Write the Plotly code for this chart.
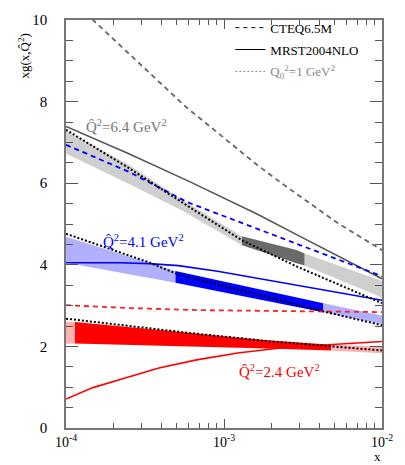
import plotly.graph_objects as go

# ---------------- data ----------------
# Q^2 = 6.4 GeV^2 curves (grey)
x_cteq_64 = [1.0e-4, 1.48e-4, 5.7e-4, 1.63e-3, 2.39e-3, 5.35e-3, 1.0e-2]
y_cteq_64 = [10.62, 10.0, 7.88, 6.44, 5.96, 5.00, 4.36]
x_mrst_64 = [1.0e-4, 2.5e-4, 6.2e-4, 1.63e-3, 2.88e-3, 1.0e-2]
y_mrst_64 = [7.39, 6.72, 6.02, 5.24, 4.74, 3.66]
x_q0_64 = [1.0e-4, 2.5e-4, 5.9e-4, 1.3e-3, 2.88e-3, 1.0e-2]
y_q0_64 = [7.31, 6.37, 5.44, 4.60, 3.96, 3.06]
x_band_64 = [1.0e-4, 2.5e-4, 5.5e-4, 1.3e-3, 2.88e-3, 3.24e-3, 1.0e-2]
up_band_64 = [7.28, 6.45, 5.58, 4.70, 4.36, 4.28, 3.60]
lo_band_64 = [6.73, 5.98, 5.32, 4.48, 4.04, 3.98, 3.20]

# Q^2 = 4.1 GeV^2 curves (blue)
x_cteq_41 = [1.0e-4, 2.5e-4, 5.9e-4, 1.63e-3, 2.88e-3, 1.0e-2]
y_cteq_41 = [6.94, 6.28, 5.53, 4.88, 4.50, 3.72]
x_mrst_41 = [1.0e-4, 2.2e-4, 3.35e-4, 5.15e-4, 9.1e-4, 1.63e-3, 2.88e-3, 5.1e-3, 1.0e-2]
y_mrst_41 = [4.05, 4.05, 4.03, 3.98, 3.84, 3.67, 3.50, 3.33, 3.13]
x_q0_41 = [1.0e-4, 3.35e-4, 5.15e-4, 1.47e-3, 4.43e-3, 1.0e-2]
y_q0_41 = [4.76, 4.06, 3.76, 3.32, 2.84, 2.52]
x_band_41 = [1.0e-4, 4.93e-4, 4.25e-3, 1.0e-2]
up_band_41 = [4.69, 3.85, 3.06, 2.76]
lo_band_41 = [4.05, 3.56, 2.84, 2.54]

# Q^2 = 2.4 GeV^2 curves (red)
x_cteq_24 = [1.0e-4, 2.5e-4, 6.7e-4, 2.5e-3, 1.0e-2]
y_cteq_24 = [3.01, 2.94, 2.89, 2.86, 2.84]
x_mrst_24 = [1.0e-4, 1.48e-4, 2.4e-4, 3.87e-4, 6.7e-4, 1.22e-3, 2.5e-3, 5.1e-3, 1.0e-2]
y_mrst_24 = [0.71, 0.99, 1.23, 1.47, 1.67, 1.84, 1.98, 2.06, 2.12]
x_q0_24 = [1.0e-4, 2.5e-4, 6.7e-4, 1.88e-3, 4.6e-3, 1.0e-2]
y_q0_24 = [2.68, 2.50, 2.31, 2.13, 2.00, 1.90]
x_band_24 = [1.0e-4, 1.14e-4, 2.5e-4, 6.7e-4, 1.88e-3, 4.76e-3, 1.0e-2]
up_band_24 = [2.60, 2.60, 2.47, 2.32, 2.15, 2.04, 2.00]
lo_band_24 = [2.07, 2.07, 2.04, 2.00, 1.95, 1.90, 1.83]

x_tick_vals = [1e-4, 1e-3, 1e-2]
x_tick_text = ["10<sup>-4</sup>", "10<sup>-3</sup>", "10<sup>-2</sup>"]
x_minor_vals = [m * 10.0 ** e for e in (-4, -3) for m in range(2, 10)]
y_tick_vals = [0, 2, 4, 6, 8, 10]

legend_names = ["CTEQ6.5M", "MRST2004NLO",
                "<span style='color:#888'>Q<sub>0</sub><sup>2</sup>=1 GeV<sup>2</sup></span>"]

label_64 = "Q\u0302<sup>2</sup>=6.4 GeV<sup>2</sup>"
label_41 = "Q\u0302<sup>2</sup>=4.1 GeV<sup>2</sup>"
label_24 = "Q\u0302<sup>2</sup>=2.4 GeV<sup>2</sup>"

# ---------------- figure ----------------
FONT = "Liberation Serif"
fig = go.Figure()


def add_band(xs, up, lo, segments):
    for i0, i1, col in segments:
        sx = xs[i0:i1 + 1]
        fig.add_trace(go.Scatter(
            x=sx + sx[::-1], y=up[i0:i1 + 1] + lo[i0:i1 + 1][::-1],
            fill="toself", fillcolor=col, mode="lines", line=dict(width=0),
            showlegend=False, hoverinfo="skip"))


add_band(x_band_64, up_band_64, lo_band_64,
         [(0, 3, "#cfcfcf"), (3, 5, "#6a6a6a"), (5, 6, "#cfcfcf")])
add_band(x_band_41, up_band_41, lo_band_41,
         [(0, 1, "#b0b0ff"), (1, 2, "#0000ff"), (2, 3, "#b0b0ff")])
add_band(x_band_24, up_band_24, lo_band_24,
         [(0, 1, "#ffb0b0"), (1, 5, "#ff0000"), (5, 6, "#ffb0b0")])


def add_line(xs, ys, color, dash, width=1.6):
    fig.add_trace(go.Scatter(x=xs, y=ys, mode="lines",
                             line=dict(color=color, dash=dash, width=width),
                             showlegend=False, hoverinfo="skip"))


add_line(x_cteq_64, y_cteq_64, "#666666", "5px,4px", 1.8)
add_line(x_mrst_64, y_mrst_64, "#555555", "solid", 1.6)
add_line(x_cteq_41, y_cteq_41, "#0000ff", "5px,4px", 1.8)
add_line(x_mrst_41, y_mrst_41, "#0000ff", "solid", 1.6)
add_line(x_cteq_24, y_cteq_24, "#ff2020", "5px,4px", 1.8)
add_line(x_mrst_24, y_mrst_24, "#ff0000", "solid", 1.6)
add_line(x_q0_64, y_q0_64, "#000000", "2px,2px", 2)
add_line(x_q0_41, y_q0_41, "#000000", "2px,2px", 2)
add_line(x_q0_24, y_q0_24, "#000000", "2px,2px", 2)

# legend dummies
for name, dash, col in zip(legend_names, ["4px,4px", "solid", "2px,2px"],
                           ["#000000", "#000000", "#888888"]):
    fig.add_trace(go.Scatter(x=[None], y=[None], mode="lines", name=name,
                             legendgroup=name,
                             line=dict(color=col, dash=dash, width=1)))

axis_common = dict(showline=True, linecolor="#777777", linewidth=1.5,
                   mirror="ticks", ticks="inside", tickcolor="#555555",
                   showgrid=False, zeroline=False)

fig.update_xaxes(type="log", range=[-4, -2], tickmode="array",
                 tickvals=x_tick_vals, ticktext=x_tick_text, ticklen=9,
                 tickwidth=1,
                 tickfont=dict(family=FONT, size=14, color="#000000"),
                 minor=dict(tickmode="array", tickvals=x_minor_vals,
                            ticks="inside", ticklen=5, tickcolor="#555555",
                            tickwidth=1),
                 **axis_common)
fig.update_yaxes(range=[0, 10], tickmode="array", tickvals=y_tick_vals,
                 ticklen=12, tickwidth=1, ticklabelstandoff=14,
                 tickfont=dict(family=FONT, size=15, color="#000000"),
                 minor=dict(dtick=0.5, ticks="inside", ticklen=7,
                            tickcolor="#555555", tickwidth=1),
                 **axis_common)

ann_font = dict(family=FONT, size=15)
fig.add_annotation(x=-3.62, y=(428 - 120) / 41.6, xref="x", yref="y",
                   text=label_64, showarrow=False, font=dict(color="#777777", **ann_font))
fig.add_annotation(x=-3.51, y=(428 - 237) / 41.6, xref="x", yref="y",
                   text=label_41, showarrow=False, font=dict(color="#0000ff", **ann_font))
fig.add_annotation(x=-2.65, y=(428 - 370) / 41.6, xref="x", yref="y",
                   text=label_24, showarrow=False, font=dict(color="#ff0000", **ann_font))

fig.add_annotation(x=-0.134, y=0.912, xref="paper", yref="paper",
                   xanchor="center", yanchor="middle",
                   text="xg(x,Q\u0302<sup>2</sup>)", textangle=-90, showarrow=False,
                   font=dict(family=FONT, size=13, color="#000000"))
fig.add_annotation(x=0.985, y=-0.071, xref="paper", yref="paper", text="x",
                   xanchor="center", yanchor="middle",
                   showarrow=False, font=dict(family=FONT, size=13, color="#000000"))

fig.update_layout(
    width=405, height=465,
    margin=dict(l=66, r=18, t=12, b=37),
    paper_bgcolor="white", plot_bgcolor="white",
    font=dict(family=FONT, color="#000000"),
    legend=dict(x=0.52, y=1.018, xanchor="left", yanchor="top",
                bgcolor="rgba(0,0,0,0)", tracegroupgap=2,
                font=dict(family=FONT, size=13, color="#000000")),
)

fig.write_html("out.html")
